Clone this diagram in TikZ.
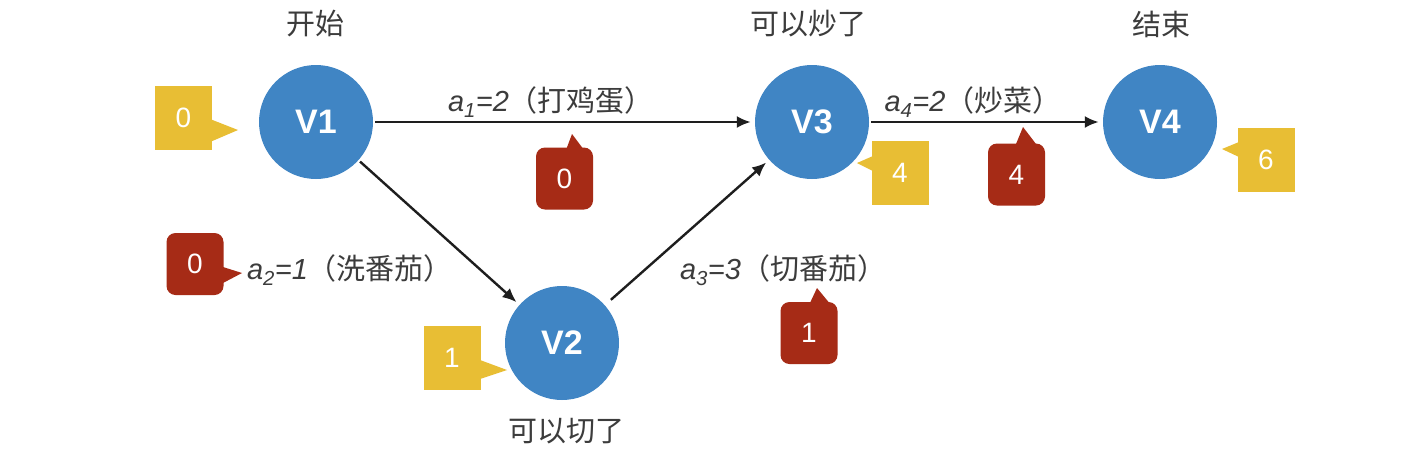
\documentclass[tikz,border=0pt]{standalone}
\usepackage{fontspec}
\setmainfont{Liberation Sans}
\newfontfamily\cjk{Noto Sans CJK SC}
\usetikzlibrary{arrows.meta}
\definecolor{vblue}{RGB}{64,133,196}
\definecolor{cyel}{RGB}{232,190,52}
\definecolor{cred}{RGB}{166,43,22}
\definecolor{txtc}{RGB}{60,60,60}
\definecolor{linec}{RGB}{30,30,30}
\tikzset{
  vert/.style={circle,fill=vblue,minimum size=114pt,inner sep=0pt,text=white,font=\fontsize{34}{34}\selectfont\bfseries},
  title/.style={text=txtc,font=\cjk\fontsize{29}{29}\selectfont,inner sep=0pt},
  elabel/.style={text=txtc,font=\fontsize{29}{29}\selectfont,inner sep=0pt},
  ybox/.style={rectangle,fill=cyel,minimum width=57pt,minimum height=64pt,inner sep=0pt,text=white,font=\fontsize{28}{28}\selectfont},
  rbox/.style={rectangle,rounded corners=9pt,fill=cred,minimum width=57pt,minimum height=62pt,inner sep=0pt,text=white,font=\fontsize{28}{28}\selectfont},
  arc/.style={draw=linec,line width=2.4pt,-{Latex[length=14pt,width=12pt]},shorten >=4pt,shorten <=2pt}
}
\begin{document}
\begin{tikzpicture}[x=1pt,y=-1pt]
\useasboundingbox[fill=white] (0,0) rectangle (1410,456);
% vertices
\node[vert] (V1) at (316,122) {V1};
\node[vert] (V2) at (562,343) {V2};
\node[vert] (V3) at (812,122) {V3};
\node[vert] (V4) at (1160,122) {V4};
% titles
\node[title] (t1) at (315,24) {开始};
\node[title] (t3) at (808,24) {可以炒了};
\node[title] (t4) at (1161,24) {结束};
\node[title] (t2) at (566,431) {可以切了};
% edges
\draw[arc] (V1) -- (V3);
\draw[arc] (V3) -- (V4);
\draw[arc] (V1) -- (V2);
\draw[arc,shorten <=8pt] (V2) -- (V3);
% edge labels
\node[elabel] (l1) at (551,102) {{\itshape a\textsubscript{1}=2}{\cjk （打鸡蛋）}};
\node[elabel] (l4) at (973,102) {{\itshape a\textsubscript{4}=2}{\cjk （炒菜）}};
\node[elabel] (l2) at (350,270) {{\itshape a\textsubscript{2}=1}{\cjk （洗番茄）}};
\node[elabel] (l3) at (783,270) {{\itshape a\textsubscript{3}=3}{\cjk （切番茄）}};
% yellow callouts
\fill[cyel] (210,119) -- (238,130) -- (210,142) -- cycle;
\node[ybox] (y1) at (183.5,117.5) {0};
\fill[cyel] (480,360) -- (507,370) -- (480,379) -- cycle;
\node[ybox] (y2) at (452,358) {1};
\fill[cyel] (873,156) -- (857,163) -- (873,171) -- cycle;
\node[ybox] (y3) at (900,172.5) {4};
\fill[cyel] (1239,142) -- (1222,149) -- (1239,157) -- cycle;
\node[ybox] (y4) at (1266,160) {6};
% red callouts
\fill[cred] (566,150) -- (572,134) -- (584,150) -- cycle;
\node[rbox] (r1) at (564.5,178.5) {0};
\fill[cred] (223,267) -- (242,273) -- (223,283) -- cycle;
\node[rbox] (r2) at (195,264) {0};
\fill[cred] (809,305) -- (817,288) -- (831,305) -- cycle;
\node[rbox] (r3) at (809,333) {1};
\fill[cred] (1016,144) -- (1023,127) -- (1036,144) -- cycle;
\node[rbox] (r4) at (1016.5,174.5) {4};
\end{tikzpicture}
\end{document}
